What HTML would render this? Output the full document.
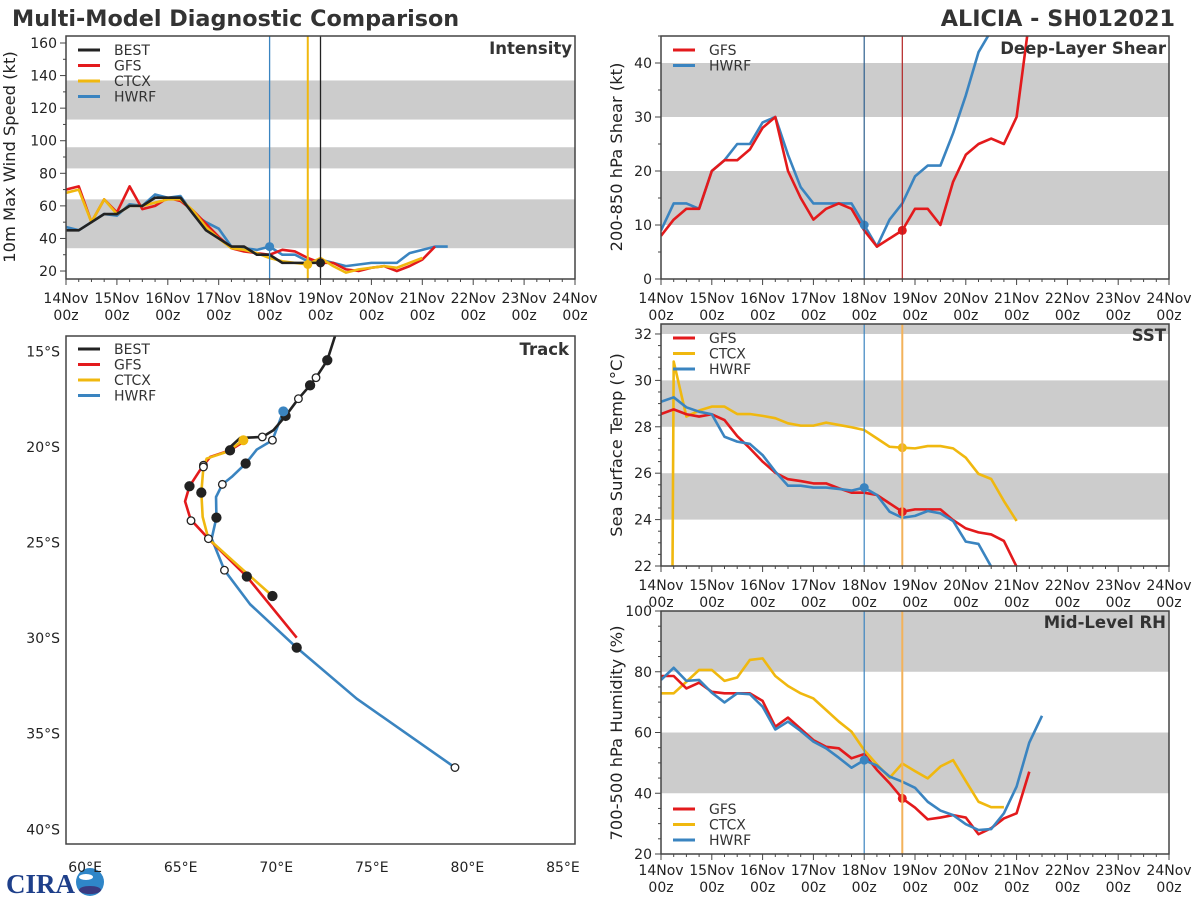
<!DOCTYPE html>
<html><head><meta charset="utf-8">
<style>
html,body{margin:0;padding:0;background:#fff;}
svg{display:block;font-family:"DejaVu Sans","Liberation Sans",sans-serif;}
</style></head>
<body>
<svg id="fig" width="1200" height="900" viewBox="0 0 1200 900" xmlns="http://www.w3.org/2000/svg">
<text x="12" y="26" font-size="22.3" font-weight="bold" fill="#333">Multi-Model Diagnostic Comparison</text>
<text x="1175" y="26" font-size="22.3" font-weight="bold" fill="#333" text-anchor="end">ALICIA - SH012021</text>
<g>
<text x="6" y="893" font-size="27" font-weight="bold" fill="#1e3f8a" font-family="Liberation Serif, serif">CIRA</text>
<circle cx="90" cy="882" r="14" fill="#2f86c8"/>
<ellipse cx="90" cy="890" rx="11" ry="4" fill="#3a3a80"/>
<ellipse cx="86" cy="877" rx="7" ry="3" fill="#fff"/>
</g>
</svg>
<script>
// ---------- data ----------
const dayLabels = ["14Nov","15Nov","16Nov","17Nov","18Nov","19Nov","20Nov","21Nov","22Nov","23Nov","24Nov"];
const intTicks = [20,40,60,80,100,120,140,160];
const shrTicks = [0,10,20,30,40];
const sstTicks = [22,24,26,28,30,32];
const rhTicks = [20,40,60,80,100];
const lonTicks = [60,65,70,75,80,85];
const latTicks = [15,20,25,30,35,40];

// intensity (kt), 6-hourly from 14Nov00z
const intBest = [45,45,50,55,55,60,60,65,65,65,55,45,40,35,35,30,30,25,25,25,25];
const intGfs  = [70,72,50,64,56,72,58,60,65,63,57,49,41,34,32,31,30,33,32,28,25,25,21,20,22,23,20,23,27,35];
const intCtcx = [68,70,50,64,55,60,60,62,64,64,57,47,40,34,33,31,28,26,25,24,28,23,19,21,22,23,22,25,28];
const intHwrf = [47,45,50,55,54,61,60,67,65,66,55,50,46,35,34,33,35,30,30,26,27,25,23,24,25,25,25,31,33,35,35];
// shear (kt)
const shrGfs  = [8,11,13,13,20,22,22,24,28,30,20,15,11,13,14,13,9,6,7.5,9,13,13,10,18,23,25,26,25,30,48];
const shrHwrf = [9,14,14,13,20,22,25,25,29,30,23,17,14,14,14,14,10,6,11,14,19,21,21,27,34,42,46];
// SST (C)
const sstGfs  = [28.55,28.75,28.54,28.44,28.54,28.29,27.6,27.07,26.5,26.02,25.74,25.66,25.56,25.56,25.35,25.16,25.16,25.06,24.7,24.34,24.44,24.44,24.44,23.98,23.62,23.45,23.36,23.08,21.97];
const sstHwrf = [29.08,29.27,28.84,28.65,28.54,27.57,27.36,27.26,26.78,26.07,25.46,25.46,25.38,25.38,25.32,25.25,25.38,25.06,24.34,24.08,24.16,24.37,24.27,23.94,23.05,22.95,21.97];
const sstCtcxHours = [5,6,12,18,24,30,36,42,48,54,60,66,72,78,84,90,96,102,108,114,120,126,132,138,144,150,156,162,168];
const sstCtcx = [15,30.81,28.44,28.7,28.87,28.87,28.55,28.55,28.47,28.37,28.15,28.05,28.05,28.18,28.08,27.98,27.86,27.5,27.14,27.1,27.07,27.17,27.17,27.07,26.67,25.97,25.75,24.8,23.94];
// mid-level RH (%)
const rhGfs  = [78.6,78.6,74.5,76.4,73.4,72.9,72.9,72.9,70.4,61.9,64.9,61.2,57.5,55.3,54.8,51.5,52.9,47.7,43.3,38.3,35.3,31.4,32,32.8,32,26.5,28.5,31.7,33.4,47.1];
const rhHwrf = [77.3,81.3,77,77.3,73.1,69.9,72.9,72.6,68.5,61,63.6,60.5,57,54.8,51.7,48.4,50.9,49.1,45.5,43.8,41.8,37.2,34.3,32.8,29.8,27.9,28.2,33.4,42.2,56.7,65.5];
const rhCtcx = [72.9,72.9,76.7,80.6,80.6,77,78.1,83.9,84.4,78.6,75.3,72.9,71.2,67.4,63.6,60.3,54.2,49.5,45.1,49.8,47.3,44.9,48.8,50.9,44,37.2,35.4,35.4];
// tracks: lon E, lat S, marker (0 none,1 filled,2 open)
const trkBestLon = [73.3,72.67,72.08,71.77,71.16,70.49,69.85,69.27,68.11,67.5];
const trkBestLat = [13.5,15.47,16.38,16.78,17.48,18.38,19.13,19.48,19.53,20.09];
const trkBestMk  = [0,1,2,1,2,1,0,2,0,0];
const trkGfsLon = [68.28,67.58,66.54,66.19,66.01,65.46,65.23,65.54,65.72,66.45,68.46,71.07];
const trkGfsLat = [19.74,20.18,20.53,20.96,21.22,22.06,22.85,23.86,24.01,24.8,26.78,29.98];
const trkGfsMk  = [0,1,0,2,0,1,0,2,0,0,1,0];
const trkCtcxLon = [68.28,67.41,66.36,66.19,66.08,66.15,66.45,68.0,69.8];
const trkCtcxLat = [19.65,20.26,20.61,21.05,22.39,23.66,24.8,26.2,27.8];
const trkCtcxMk  = [0,0,0,2,1,0,2,0,1];
const trkHwrfLon = [70.37,69.8,68.98,68.4,67.67,67.18,66.85,66.87,66.62,67.29,68.63,71.07,74.21,79.35];
const trkHwrfLat = [18.14,19.65,20.14,20.87,21.57,21.96,22.62,23.7,24.8,26.45,28.23,30.5,33.17,36.77];
const trkHwrfMk  = [0,2,0,1,0,2,0,1,0,2,0,1,0,2];

// ---------- drawing ----------
const C = {best:"#222222",gfs:"#e31a1c",ctcx:"#f0b80f",hwrf:"#3a84c0"};
const NS="http://www.w3.org/2000/svg";
const svg=document.getElementById("fig");
function el(tag,attrs,parent){const e=document.createElementNS(NS,tag);for(const k in attrs)e.setAttribute(k,attrs[k]);(parent||svg).appendChild(e);return e;}
function txt(x,y,s,attrs,parent){const e=el("text",Object.assign({x:x,y:y,"font-size":14,fill:"#222"},attrs||{}),parent);e.textContent=s;return e;}

function panel(name,x0,x1,y0,y1,vmin,vmax){
  const g=el("g",{});
  
  
  const p={g,x0,x1,y0,y1,vmin,vmax,
    sx:h=>x0+(x1-x0)*h/240,
    sy:v=>y1-(y1-y0)*(v-vmin)/(vmax-vmin)};
  return p;
}
function bands(p,list){
  list.forEach(b=>{
    const ya=p.sy(Math.min(b[1],p.vmax)), yb=p.sy(Math.max(b[0],p.vmin));
    const r=el("rect",{x:p.x0,y:ya,width:p.x1-p.x0,height:yb-ya,fill:"#cccccc"},p.g);
    
    
  });
}
function frame(p){
  const r=el("rect",{x:p.x0,y:p.y0,width:p.x1-p.x0,height:p.y1-p.y0,fill:"none",stroke:"#444","stroke-width":1.5},p.g);
  
  
}
function clip(p,id){
  const cp=el("clipPath",{id:id},p.g);
  el("rect",{x:p.x0,y:p.y0,width:p.x1-p.x0,height:p.y1-p.y0},cp);
  return el("g",{"clip-path":"url(#"+id+")"},p.g);
}
function xAxis(p,labY){
  for(let h=0;h<=240;h+=6){
    const x=p.sx(h), L=(h%24===0)?6:3;
    el("line",{x1:x,x2:x,y1:p.y1,y2:p.y1+L,stroke:"#444","stroke-width":1},p.g);
  }
  dayLabels.forEach((d,i)=>{
    const x=p.sx(i*24);
    const t=txt(x,labY,d,{"text-anchor":"middle"},p.g);
    
    
    const t2=txt(x,labY+17,"00z",{"text-anchor":"middle"},p.g);
    
    
  });
}
function yAxis(p,ticks,minorStep){
  for(let v=Math.ceil(p.vmin/minorStep)*minorStep;v<=p.vmax;v+=minorStep){
    const y=p.sy(v), major=ticks.indexOf(v)>=0;
    el("line",{x1:p.x0-(major?6:3),x2:p.x0,y1:y,y2:y,stroke:"#444","stroke-width":1},p.g);
  }
  ticks.forEach(v=>{
    const t=txt(p.x0-9,p.sy(v)+5,String(v),{"text-anchor":"end"},p.g);
    
    
  });
}
function yTitle(x,cy,s){
  const t=txt(x,cy,s,{"text-anchor":"middle",transform:"rotate(-90 "+x+" "+cy+")","font-size":16.3});
  
  
}
function title(p,s,y){
  const t=txt(p.x1-3,y,s,{"text-anchor":"end","font-weight":"bold","font-size":16.5,fill:"#333"},p.g);
  
  
}
function series(p,g,vals,color,name,startH,hours){
  const pts=vals.map((v,i)=>[p.sx(hours?hours[i]:(startH+i*6)),p.sy(v)]);
  const l=el("polyline",{points:pts.map(q=>q.join(",")).join(" "),fill:"none",stroke:color,"stroke-width":2.6,"stroke-linejoin":"round"},g);
  
  
}
function vline(p,h,color,w){
  const l=el("line",{x1:p.sx(h),x2:p.sx(h),y1:p.y0,y2:p.y1,stroke:color,"stroke-width":w||1.3},p.g);
  
  
}
function dot(p,g,h,v,color){
  const c=el("circle",{cx:p.sx(h),cy:p.sy(v),r:4.5,fill:color},g);
  
  
}
function legend(x,y,entries,parent){
  entries.forEach((e,i)=>{
    const yy=y+i*15.5;
    el("line",{x1:x,x2:x+22,y1:yy,y2:yy,stroke:e[1],"stroke-width":3},parent);
    const t=txt(x+36,yy+5,e[0],{"font-size":14,fill:"#333"},parent);
    
    
  });
}

// Intensity
const pI=panel("intensity",66,575,36,279,15.1,164.3);
bands(pI,[[34,64],[83,96],[113,137]]);
const gI=clip(pI,"cI");
vline(pI,96,C.hwrf,1.3); vline(pI,114,C.ctcx,2); vline(pI,120,"#222",1.3);
series(pI,gI,intHwrf,C.hwrf,"hwrf-intensity-line",0);
series(pI,gI,intGfs,C.gfs,"gfs-intensity-line",0);
series(pI,gI,intCtcx,C.ctcx,"ctcx-intensity-line",0);
series(pI,gI,intBest,C.best,"best-intensity-line",0);
dot(pI,gI,96,intHwrf[16],C.hwrf); dot(pI,gI,114,intCtcx[19],C.ctcx); dot(pI,gI,120,intGfs[20],C.gfs); dot(pI,gI,120,intBest[20],C.best);
frame(pI); xAxis(pI,303); yAxis(pI,intTicks,10); title(pI,"Intensity",54);
legend(78,50,[["BEST",C.best],["GFS",C.gfs],["CTCX",C.ctcx],["HWRF",C.hwrf]],pI.g);
yTitle(15,157,"10m Max Wind Speed (kt)");

// Shear
const pS=panel("shear",661,1169,36,279,0,45);
bands(pS,[[10,20],[30,40]]);
const gS=clip(pS,"cS");
vline(pS,96,"#2d5f8e",1.2); vline(pS,114,"#b22222",1.2);
series(pS,gS,shrHwrf,C.hwrf,"hwrf-shear-line",0);
series(pS,gS,shrGfs,C.gfs,"gfs-shear-line",0);
dot(pS,gS,96,shrHwrf[16],C.hwrf); dot(pS,gS,114,shrGfs[19],C.gfs);
frame(pS); xAxis(pS,303); yAxis(pS,shrTicks,5); title(pS,"Deep-Layer Shear",54);
legend(673,50,[["GFS",C.gfs],["HWRF",C.hwrf]],pS.g);
yTitle(622,157,"200-850 hPa Shear (kt)");

// SST
const pT=panel("sst",661,1169,324,566,22,32.43);
bands(pT,[[24,26],[28,30],[32,40]]);
const gT=clip(pT,"cT");
vline(pT,96,C.hwrf,1.2); vline(pT,114,"#f3b25a",2);
series(pT,gT,sstCtcx,C.ctcx,"ctcx-sst-line",0,sstCtcxHours);
series(pT,gT,sstGfs,C.gfs,"gfs-sst-line",0);
series(pT,gT,sstHwrf,C.hwrf,"hwrf-sst-line",0);
dot(pT,gT,96,25.38,C.hwrf); dot(pT,gT,114,27.1,C.ctcx); dot(pT,gT,114,24.34,C.gfs);
frame(pT); xAxis(pT,590); yAxis(pT,sstTicks,0.5); title(pT,"SST",341);
legend(673,338,[["GFS",C.gfs],["CTCX",C.ctcx],["HWRF",C.hwrf]],pT.g);
yTitle(622,445,"Sea Surface Temp (°C)");

// RH
const pR=panel("rh",661,1169,611,854,20,100);
bands(pR,[[40,60],[80,100]]);
const gR=clip(pR,"cR");
vline(pR,96,C.hwrf,1.2); vline(pR,114,"#f3b25a",2);
series(pR,gR,rhCtcx,C.ctcx,"ctcx-rh-line",0);
series(pR,gR,rhGfs,C.gfs,"gfs-rh-line",0);
series(pR,gR,rhHwrf,C.hwrf,"hwrf-rh-line",0);
dot(pR,gR,96,rhHwrf[16],C.hwrf); dot(pR,gR,114,rhGfs[19],C.gfs);
frame(pR); xAxis(pR,875); yAxis(pR,rhTicks,5); title(pR,"Mid-Level RH",628);
legend(673,809,[["GFS",C.gfs],["CTCX",C.ctcx],["HWRF",C.hwrf]],pR.g);
yTitle(622,733,"700-500 hPa Humidity (%)");

// Track
const tk={x0:66,x1:575,y0:336,y1:844,lon0:59.0,lon1:85.63,lat0:14.2,lat1:40.77};
const tg=el("g",{});


const lx=lon=>tk.x0+(tk.x1-tk.x0)*(lon-tk.lon0)/(tk.lon1-tk.lon0);
const ly=lat=>tk.y0+(tk.y1-tk.y0)*(lat-tk.lat0)/(tk.lat1-tk.lat0);
const tcp=el("clipPath",{id:"cK"},tg); el("rect",{x:tk.x0,y:tk.y0,width:tk.x1-tk.x0,height:tk.y1-tk.y0},tcp);
const tgc=el("g",{"clip-path":"url(#cK)"},tg);
function track(lons,lats,mks,color,name){
  const pts=lons.map((v,i)=>lx(v)+","+ly(lats[i])).join(" ");
  const l=el("polyline",{points:pts,fill:"none",stroke:color,"stroke-width":2.6,"stroke-linejoin":"round"},tgc);
  
  
}
function trackMarks(lons,lats,mks){
  lons.forEach((v,i)=>{
    if(!mks[i])return;
    const c=el("circle",{cx:lx(v),cy:ly(lats[i]),r:mks[i]===1?4.5:3.8,fill:mks[i]===1?"#222":"#fff",stroke:"#222","stroke-width":1.3},tgc);
    
    
  });
}
track(trkHwrfLon,trkHwrfLat,trkHwrfMk,C.hwrf,"hwrf-track");
track(trkGfsLon,trkGfsLat,trkGfsMk,C.gfs,"gfs-track");
track(trkCtcxLon,trkCtcxLat,trkCtcxMk,C.ctcx,"ctcx-track");
track(trkBestLon,trkBestLat,trkBestMk,C.best,"best-track");
trackMarks(trkHwrfLon,trkHwrfLat,trkHwrfMk);
trackMarks(trkGfsLon,trkGfsLat,trkGfsMk);
trackMarks(trkCtcxLon,trkCtcxLat,trkCtcxMk);
trackMarks(trkBestLon,trkBestLat,trkBestMk);
const d1=el("circle",{cx:lx(trkHwrfLon[0]),cy:ly(trkHwrfLat[0]),r:5,fill:C.hwrf},tgc);


const d2=el("circle",{cx:lx(trkCtcxLon[0]),cy:ly(trkCtcxLat[0]),r:5,fill:C.ctcx},tgc);


const tf=el("rect",{x:tk.x0,y:tk.y0,width:tk.x1-tk.x0,height:tk.y1-tk.y0,fill:"none",stroke:"#444","stroke-width":1.5},tg);


lonTicks.forEach(v=>{
  const t=txt(lx(v),872,v+"°E",{"text-anchor":"middle"},tg);
  
  
});
latTicks.forEach(v=>{
  const t=txt(60,ly(v)+5,v+"°S",{"text-anchor":"end"},tg);
  
  
});
const tt=txt(tk.x1-6,355,"Track",{"text-anchor":"end","font-weight":"bold","font-size":16.5,fill:"#333"},tg);


legend(78,349,[["BEST",C.best],["GFS",C.gfs],["CTCX",C.ctcx],["HWRF",C.hwrf]],tg);
</script>
</body></html>
